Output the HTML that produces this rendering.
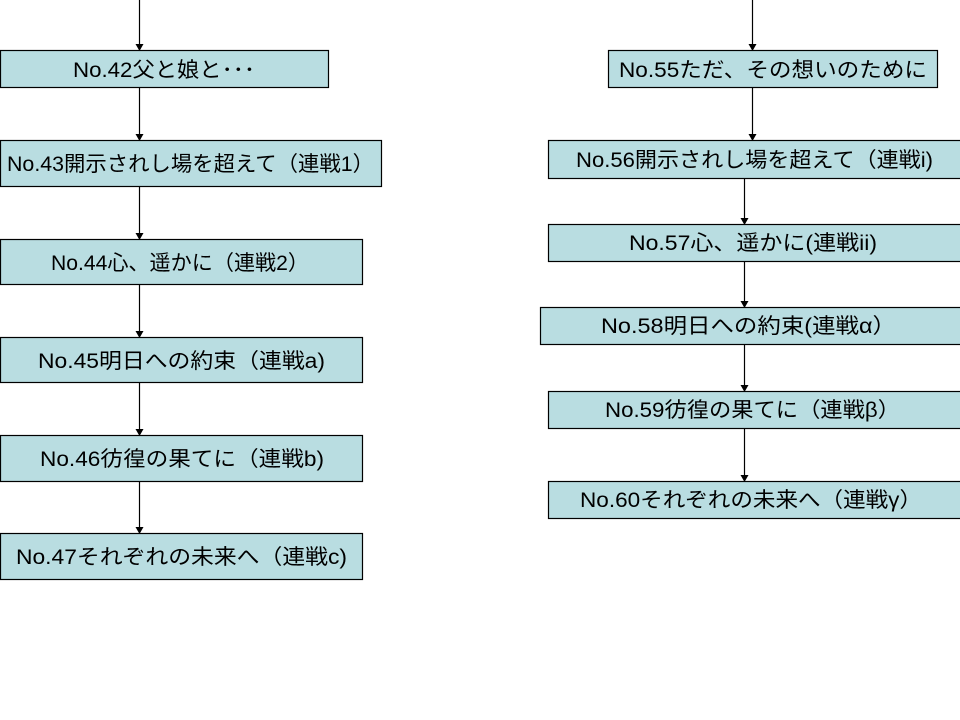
<!DOCTYPE html>
<html><head><meta charset="utf-8"><style>
html,body{margin:0;padding:0;background:#fff;}
svg{display:block;}
text{font-family:"Liberation Sans","Noto Sans CJK JP",sans-serif;font-size:21px;fill:#000;}
</style></head><body>
<svg width="960" height="720" viewBox="0 0 960 720" xmlns="http://www.w3.org/2000/svg">
<g stroke="#000" stroke-width="1.2" fill="none">
<line x1="139.5" y1="0" x2="139.5" y2="45"/>
<line x1="139.5" y1="87" x2="139.5" y2="135"/>
<line x1="139.5" y1="186" x2="139.5" y2="234"/>
<line x1="139.5" y1="284" x2="139.5" y2="332"/>
<line x1="139.5" y1="382" x2="139.5" y2="430"/>
<line x1="139.5" y1="481" x2="139.5" y2="528"/>
<line x1="752.5" y1="0" x2="752.5" y2="45"/>
<line x1="752.5" y1="87" x2="752.5" y2="135"/>
<line x1="744.5" y1="178" x2="744.5" y2="219"/>
<line x1="744.5" y1="261" x2="744.5" y2="302"/>
<line x1="744.5" y1="344" x2="744.5" y2="386"/>
<line x1="744.5" y1="428" x2="744.5" y2="476"/>
</g>
<g fill="#000">
<path d="M135.5,44 L143.5,44 L139.5,51 z"/>
<path d="M135.5,134 L143.5,134 L139.5,141 z"/>
<path d="M135.5,233 L143.5,233 L139.5,240 z"/>
<path d="M135.5,331 L143.5,331 L139.5,338 z"/>
<path d="M135.5,429 L143.5,429 L139.5,436 z"/>
<path d="M135.5,527 L143.5,527 L139.5,534 z"/>
<path d="M748.5,44 L756.5,44 L752.5,51 z"/>
<path d="M748.5,134 L756.5,134 L752.5,141 z"/>
<path d="M740.5,218 L748.5,218 L744.5,225 z"/>
<path d="M740.5,301 L748.5,301 L744.5,308 z"/>
<path d="M740.5,385 L748.5,385 L744.5,392 z"/>
<path d="M740.5,475 L748.5,475 L744.5,482 z"/>
</g>
<g fill="#b9dde1" stroke="#000" stroke-width="1.2">
<rect x="0.5" y="50.5" width="328" height="37"/>
<rect x="0.5" y="140.5" width="381" height="46"/>
<rect x="0.5" y="239.5" width="362" height="45"/>
<rect x="0.5" y="337.5" width="362" height="45"/>
<rect x="0.5" y="435.5" width="362" height="46"/>
<rect x="0.5" y="533.5" width="362" height="46"/>
<rect x="608.5" y="50.5" width="329" height="37"/>
<rect x="548.5" y="140.5" width="420" height="38"/>
<rect x="548.5" y="224.5" width="420" height="37"/>
<rect x="540.5" y="307.5" width="430" height="37"/>
<rect x="548.5" y="391.5" width="420" height="37"/>
<rect x="548.5" y="481.5" width="420" height="37"/>
</g>
<g lengthAdjust="spacingAndGlyphs">
<text x="73" y="77" textLength="182" lengthAdjust="spacingAndGlyphs">No.42父と娘と･･･</text>
<text x="7" y="171" textLength="367" lengthAdjust="spacingAndGlyphs">No.43開示されし場を超えて（連戦1）</text>
<text x="51" y="270" textLength="258" lengthAdjust="spacingAndGlyphs">No.44心、遥かに（連戦2）</text>
<text x="38" y="368" textLength="287" lengthAdjust="spacingAndGlyphs">No.45明日への約束（連戦a)</text>
<text x="40" y="466" textLength="284" lengthAdjust="spacingAndGlyphs">No.46彷徨の果てに（連戦b)</text>
<text x="16" y="564" textLength="331" lengthAdjust="spacingAndGlyphs">No.47それぞれの未来へ（連戦c)</text>
<text x="619" y="77" textLength="308" lengthAdjust="spacingAndGlyphs">No.55ただ、その想いのために</text>
<text x="576" y="167" textLength="357" lengthAdjust="spacingAndGlyphs">No.56開示されし場を超えて（連戦i)</text>
<text x="629" y="250" textLength="248" lengthAdjust="spacingAndGlyphs">No.57心、遥かに(連戦ii)</text>
<text x="601" y="333" textLength="295" lengthAdjust="spacingAndGlyphs">No.58明日への約束(連戦α）</text>
<text x="605" y="417" textLength="295" lengthAdjust="spacingAndGlyphs">No.59彷徨の果てに（連戦β）</text>
<text x="580" y="507" textLength="342" lengthAdjust="spacingAndGlyphs">No.60それぞれの未来へ（連戦γ）</text>
</g>
</svg>
</body></html>
